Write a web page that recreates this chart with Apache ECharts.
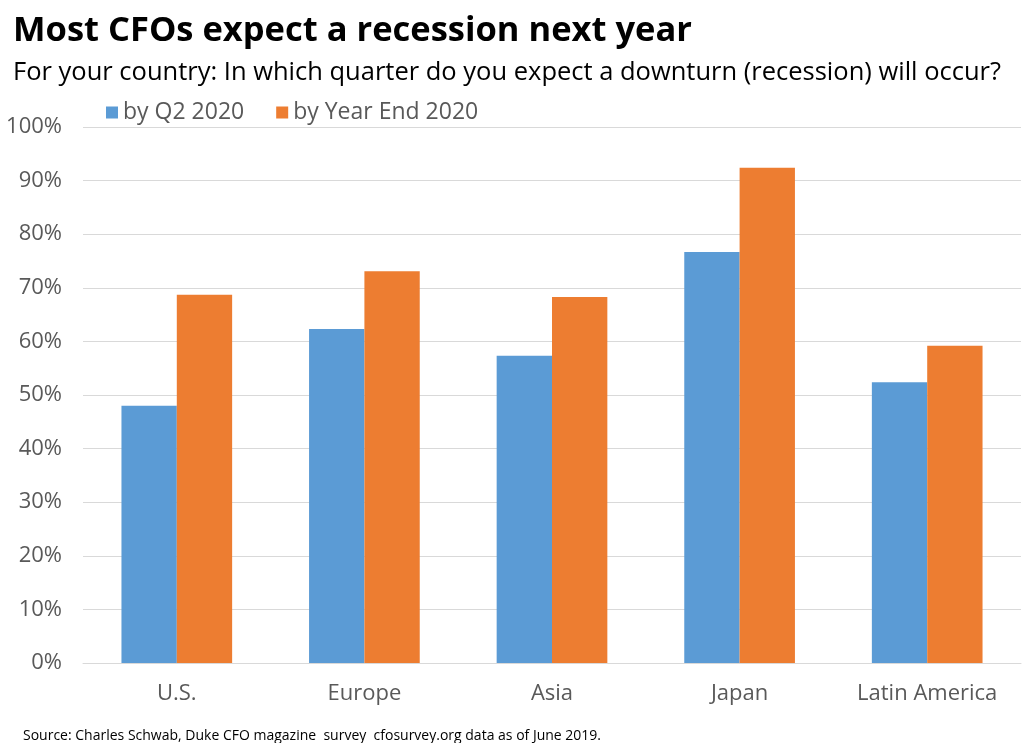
<!DOCTYPE html>
<html>
<head>
<meta charset="utf-8">
<script src="https://cdn.jsdelivr.net/npm/echarts@6/dist/echarts.min.js"></script>
<style>
  html, body { margin: 0; padding: 0; background: #fff; }
  #chart { width: 1024px; height: 743px; }
</style>
</head>
<body>
<div id="chart"></div>
<script>
var categories = ['U.S.', 'Europe', 'Asia', 'Japan', 'Latin America'];
var byQ2 = [48.0, 62.3, 57.3, 76.7, 52.4];
var byYearEnd = [68.7, 73.1, 68.3, 92.4, 59.2];
var seriesNames = ['by Q2 2020', 'by Year End 2020'];

var myChart = echarts.init(document.getElementById('chart'));
var option = {
    backgroundColor: '#ffffff',
    color: ['#5B9BD5', '#ED7D31'],
    title: [
        {
            text: 'Most CFOs expect a recession next year',
            left: 8, top: 9,
            textStyle: { fontFamily: 'Open Sans', fontWeight: 'bold', fontSize: 34.5, color: '#000' }
        },
        {
            text: 'For your country: In which quarter do you expect a downturn (recession) will occur?',
            left: 8, top: 55,
            textStyle: { fontFamily: 'Open Sans', fontWeight: 'normal', fontSize: 25.5, color: '#000' }
        },
        {
            text: 'Source: Charles Schwab, Duke CFO magazine  survey  cfosurvey.org data as of June 2019.',
            left: 18, top: 724,
            textStyle: { fontFamily: 'Open Sans', fontWeight: 'normal', fontSize: 14, color: '#000' }
        }
    ],
    legend: {
        data: seriesNames,
        left: 101, top: 96,
        icon: 'rect',
        itemWidth: 12, itemHeight: 12,
        itemGap: 32,
        textStyle: { fontFamily: 'Open Sans', fontSize: 23, color: '#595959' }
    },
    grid: { left: 83, right: 3, top: 127, bottom: 80, containLabel: false },
    xAxis: {
        type: 'category',
        data: categories,
        axisLine: { lineStyle: { color: '#D9D9D9' } },
        axisTick: { show: false },
        axisLabel: { margin: 20, fontFamily: 'Open Sans', fontSize: 22, color: '#595959' }
    },
    yAxis: {
        type: 'value',
        min: 0, max: 100, interval: 10,
        axisLine: { show: false },
        axisTick: { show: false },
        splitLine: { lineStyle: { color: '#D9D9D9' } },
        axisLabel: { margin: 21, fontFamily: 'Open Sans', fontSize: 22, color: '#595959', formatter: '{value}%' }
    },
    series: [
        {
            name: seriesNames[0], type: 'bar', data: byQ2,
            barGap: '0%', barCategoryGap: '41%'
        },
        {
            name: seriesNames[1], type: 'bar', data: byYearEnd,
            barGap: '0%', barCategoryGap: '41%'
        }
    ]
};
myChart.setOption(option, true);
</script>
</body>
</html>
